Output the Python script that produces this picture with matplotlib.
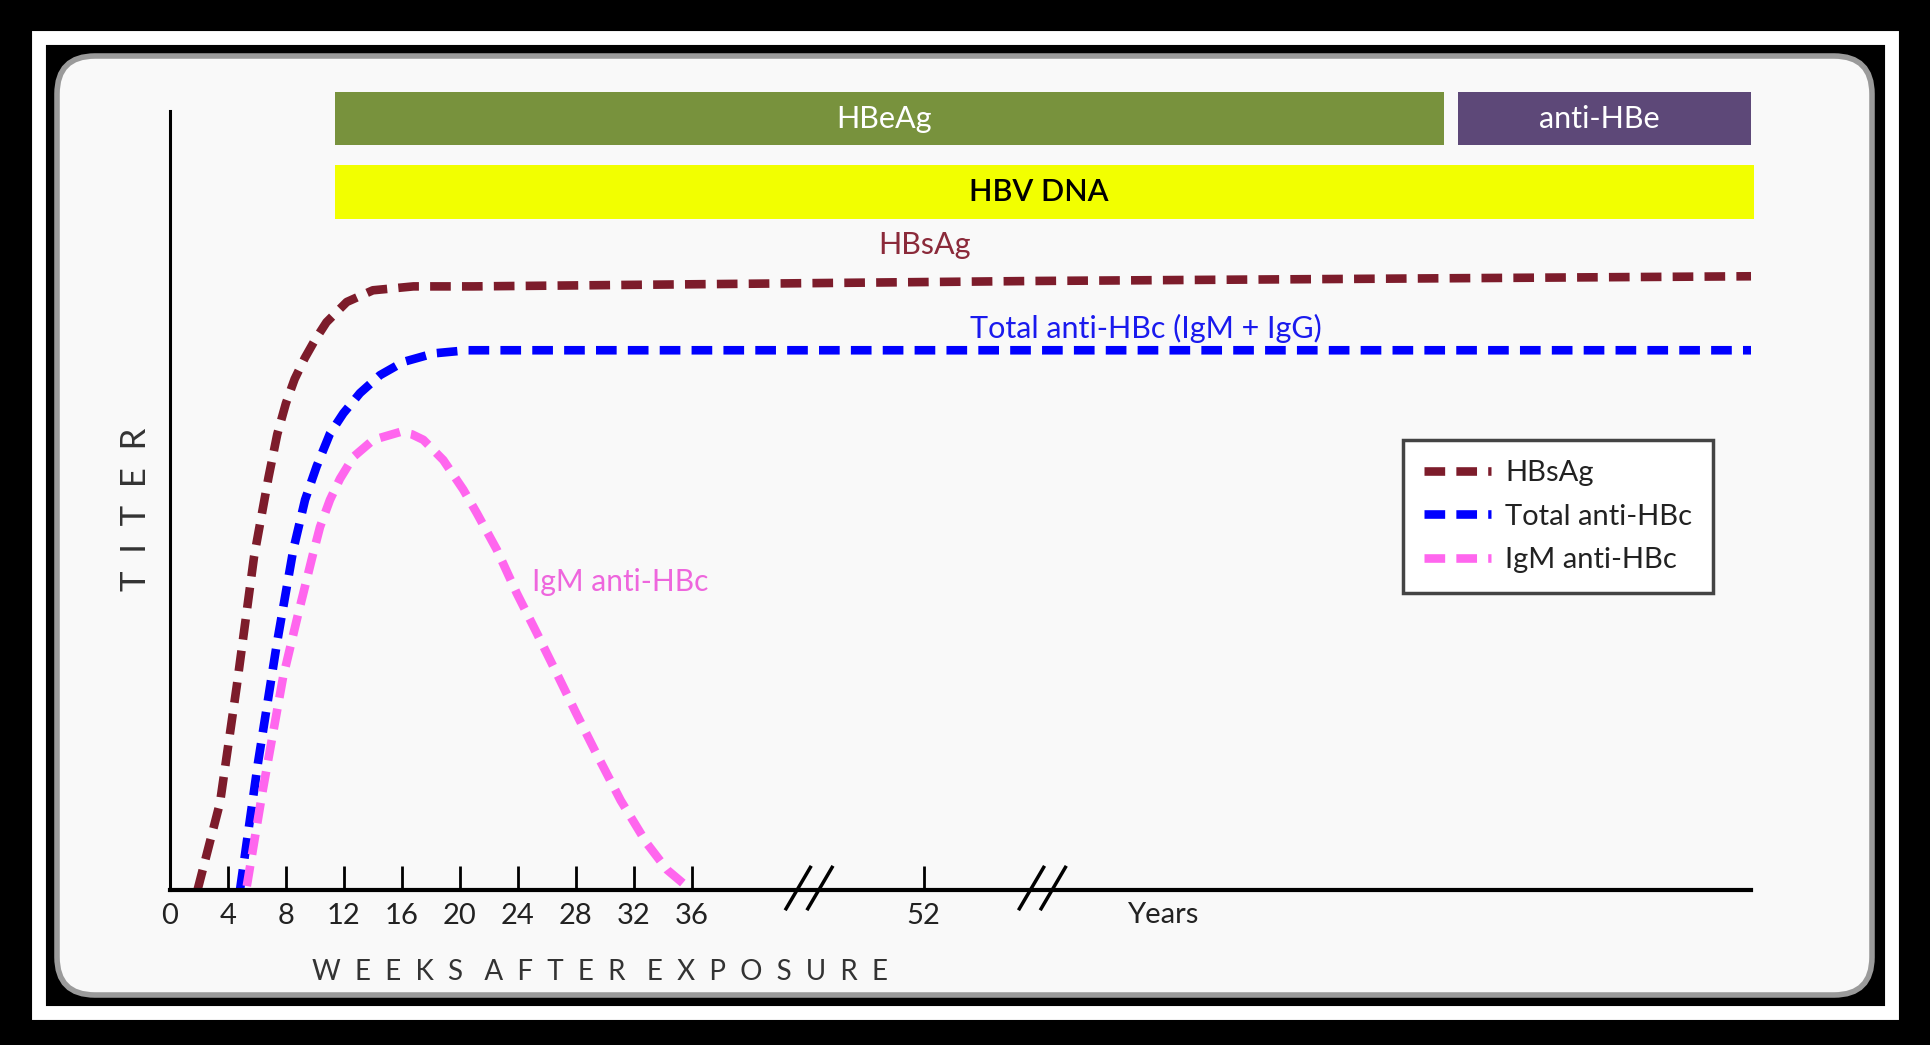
import numpy as np
import matplotlib
matplotlib.use("Agg")
import matplotlib.pyplot as plt
from matplotlib.patches import Rectangle, FancyBboxPatch
from matplotlib.transforms import IdentityTransform

plt.rcParams['font.family'] = ['Lato', 'DejaVu Sans']

# ---- data (x in weeks after exposure, y = relative titer) ----
hbsag_x = [1.9, 3.45, 4.6, 5.8, 6.8, 7.4, 8.0, 8.6, 9.3, 10.0, 10.8, 12.2, 14.0, 16.8, 20.9,
           60, 109.1]
hbsag_y = [0, 11.2, 26.1, 42.8, 53.0, 58.5, 62.5, 65.6, 68.3, 70.6, 72.9, 75.5, 77.0, 77.5, 77.5,
           78.2, 78.8]

total_x = [4.83, 6.07, 7.38, 8.51, 9.32, 10.12, 11.04, 11.96, 13.11, 14.49, 16.1, 18.2, 20.5,
           109.1]
total_y = [0, 16.3, 31.7, 43.7, 50.1, 54.4, 58.6, 61.2, 63.8, 66.1, 67.8, 68.9, 69.3, 69.3]

igm_x = [5.3, 6.4, 7.8, 8.8, 9.85, 10.35, 11.04, 11.73, 12.65, 14.03, 15.87, 16.7, 17.48, 18.86,
         20.24, 21.17, 22.55, 23.93, 25.31, 26.69, 28.0, 29.4, 31.1, 32.9, 34.3, 35.7]
igm_y = [0.5, 12.8, 27.3, 35.1, 43.0, 46.6, 50.1, 52.8, 55.6, 57.8, 58.8, 58.5, 57.8, 55.2,
         51.4, 48.4, 43.7, 38.1, 33.0, 27.8, 22.8, 17.6, 11.5, 6.0, 2.6, 0.4]

# marker bars: label, x start, x end, y bottom, y top
bar_labels = ['HBeAg', 'anti-HBe', 'HBV DNA']
bar_x0 = [11.4, 88.9, 11.4]
bar_x1 = [87.9, 109.1, 109.3]
bar_y0 = [95.6, 95.6, 86.1]
bar_y1 = [102.4, 102.4, 93.1]

week_ticks = [0, 4, 8, 12, 16, 20, 24, 28, 32, 36, 52]
axis_breaks = [44.1, 60.2]

W, H = 1931, 1045
fig = plt.figure(figsize=(W / 100, H / 100), dpi=100)
fig.patch.set_facecolor('black')

# framing like the screenshot
frame = Rectangle((39, H - 1013), 1853, 975, transform=IdentityTransform(), fill=False,
                  edgecolor='white', linewidth=10, zorder=-3)
fig.add_artist(frame)
panel = FancyBboxPatch((57, H - 995), 1815, 939, boxstyle="round,pad=0,rounding_size=38",
                       transform=IdentityTransform(), facecolor='#f9f9f9',
                       edgecolor='#9a9a9a', linewidth=4, zorder=-2)
fig.add_artist(panel)

ax = fig.add_axes([170 / W, 1 - 890 / H, 1581 / W, 810 / H])
ax.set_facecolor('none')
ax.set_xlim(0, 109.1)
ax.set_ylim(0, 104)

for s in ['top', 'right']:
    ax.spines[s].set_visible(False)
ax.spines['left'].set_bounds(0, 100)
ax.spines['left'].set_linewidth(2.2)
ax.spines['bottom'].set_linewidth(3)
ax.set_yticks([])
ax.set_xticks(week_ticks)
ax.set_xticklabels([str(t) for t in week_ticks])
ax.tick_params(axis='x', direction='in', length=17, width=2, pad=9,
               labelsize=21, labelcolor='#222222')

# bars
bar_colors = ['#78923d', '#5d4878', '#f2ff00']
text_colors = ['white', 'white', 'black']
text_weights = ['normal', 'normal', 'semibold']
for lab, x0, x1, y0, y1, c, tc, tw in zip(bar_labels, bar_x0, bar_x1, bar_y0, bar_y1,
                                          bar_colors, text_colors, text_weights):
    ax.add_patch(Rectangle((x0, y0), x1 - x0, y1 - y0, facecolor=c, edgecolor='none',
                           clip_on=False))
    ax.text((x0 + x1) / 2 - 0.4, (y0 + y1) / 2, lab, ha='center', va='center', fontsize=22,
            color=tc, fontweight=tw, clip_on=False)

dash = (0, (2.4, 1.3))
ax.plot(hbsag_x, hbsag_y, color='#7d1c2b', lw=6.2, ls=dash, label='HBsAg', clip_on=False)
ax.plot(total_x, total_y, color='#0000ff', lw=6.2, ls=dash, label='Total anti-HBc',
        clip_on=False)
ax.plot(igm_x, igm_y, color='#ff66ee', lw=6.2, ls=dash, label='IgM anti-HBc',
        clip_on=False)

ax.text(52.1, 82.8, 'HBsAg', color='#8b2a3a', fontsize=22, ha='center', va='center')
ax.text(55.2, 72.1, 'Total anti-HBc (IgM + IgG)', color='#1a1aee', fontsize=22,
        ha='left', va='center')
ax.text(25.0, 39.5, 'IgM anti-HBc', color='#ee66dd', fontsize=21.5, ha='left', va='center')

# axis breaks
for b in axis_breaks:
    for off in [-0.75, 0.75]:
        ax.plot([b + off - 0.9, b + off + 0.9], [-2.6, 3.1], color='black', lw=2.5,
                clip_on=False, solid_capstyle='butt')

ax.text(68.5, -3.2, 'Years', fontsize=21, color='#222222', ha='center', va='center',
        clip_on=False)
ax.text(29.7, -10.5, '   '.join(['  '.join(w) for w in 'WEEKS AFTER EXPOSURE'.split()]),
        fontsize=20, color='#333333', ha='center', va='center', clip_on=False)
ax.text(-2.35, 48.9, '  '.join('TITER'), fontsize=25, color='#333333', rotation=90,
        ha='center', va='center', clip_on=False)

leg = ax.legend(loc='upper left', bbox_to_anchor=(0.780, 0.556), borderaxespad=0,
                fontsize=21, handlelength=2.3, handletextpad=0.5, labelspacing=0.6,
                borderpad=0.7, fancybox=False, framealpha=1, facecolor='white',
                edgecolor='#444444')
leg.get_frame().set_linewidth(2.5)
for t in leg.get_texts():
    t.set_color('#222222')

fig.savefig('out.png', dpi=100, facecolor=fig.get_facecolor())
